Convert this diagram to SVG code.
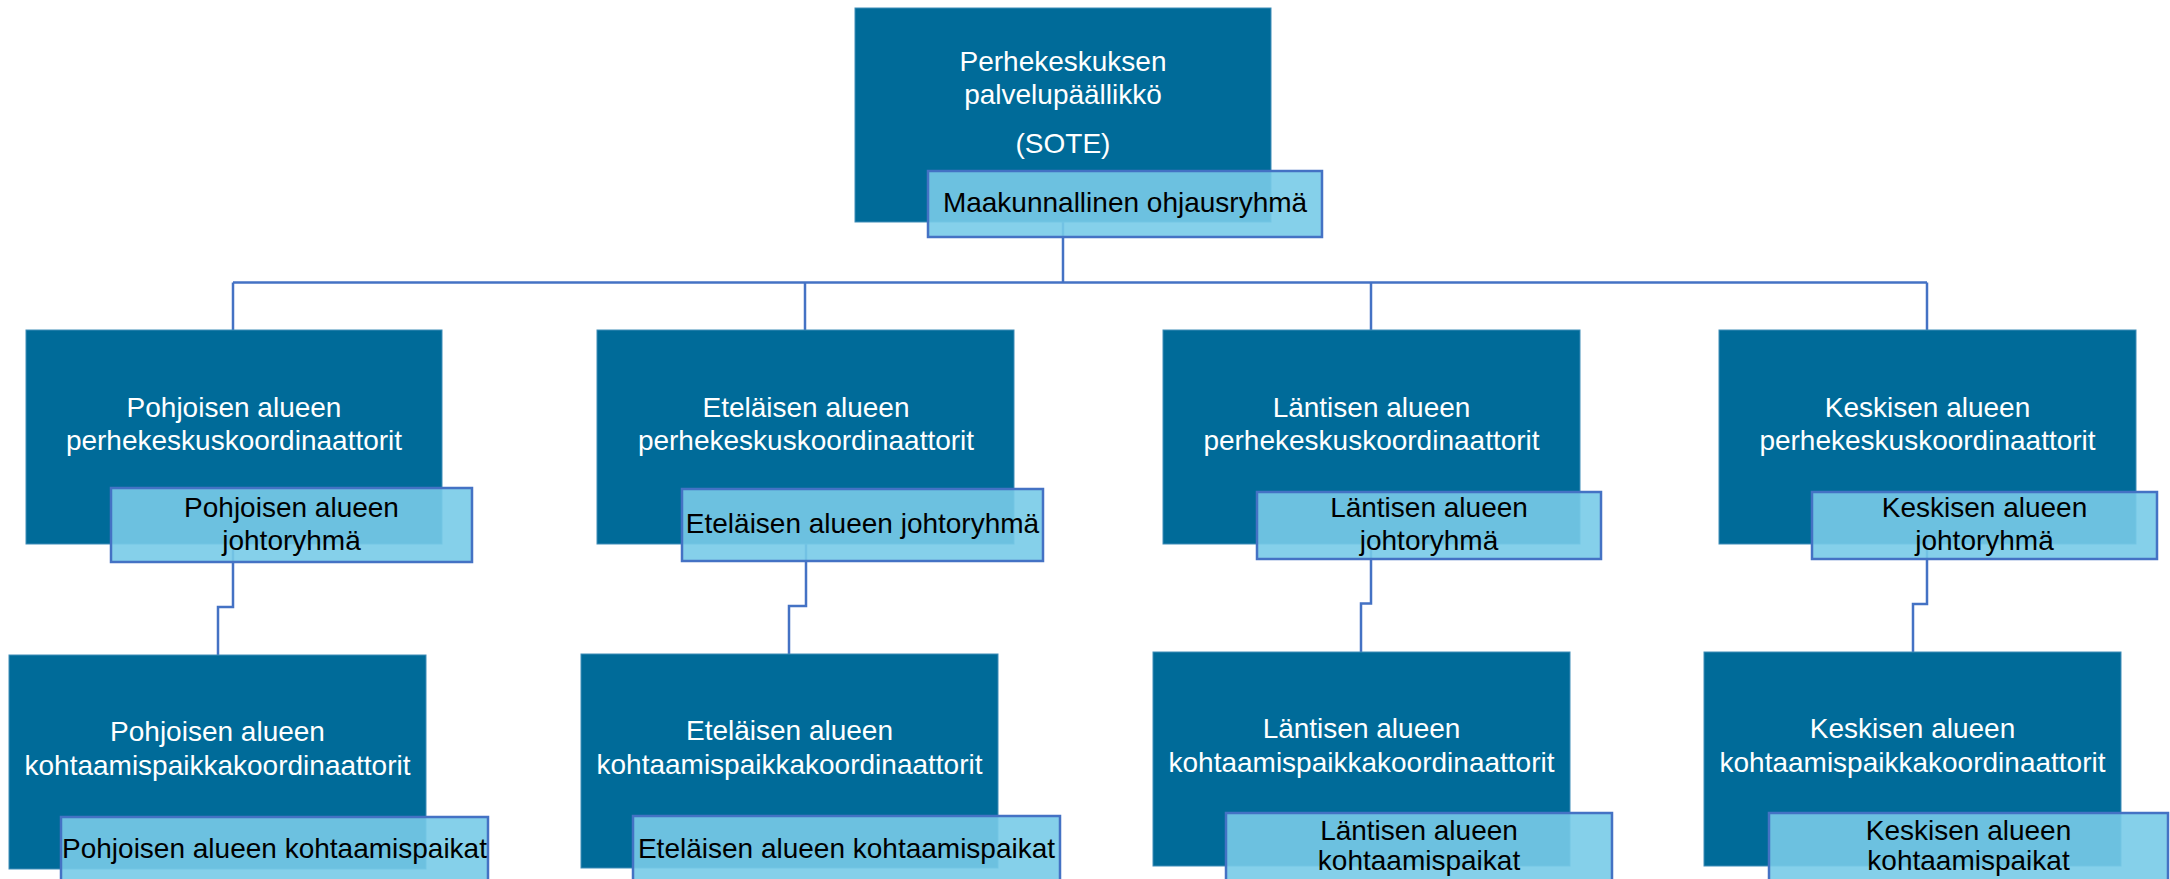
<svg xmlns="http://www.w3.org/2000/svg" width="2170" height="879" viewBox="0 0 2170 879">
<style>
.dark{fill:#006B99;stroke:#3F8DB8;stroke-width:1}
.sub{fill:rgb(120,203,232);fill-opacity:0.9;stroke:#4472C4;stroke-width:2.5}
.wt{font-family:"Liberation Sans",Arial,sans-serif;font-size:28px;fill:#ffffff;text-anchor:middle}
.bt{font-family:"Liberation Sans",Arial,sans-serif;font-size:28px;fill:#000000;text-anchor:middle}
.conn{fill:none;stroke:#4472C4;stroke-width:2.5}
</style>
<rect width="2170" height="879" fill="#ffffff"/>
<g id="connectors" class="conn">
<path d="M1063,222 V282.5"/>
<path d="M233,282.5 H1927"/>
<path d="M233,282.5 V330"/>
<path d="M805,282.5 V330"/>
<path d="M1371,282.5 V330"/>
<path d="M1927,282.5 V330"/>
<path d="M233,544 V607 H218 V655"/>
<path d="M806,544 V606 H789 V654"/>
<path d="M1371,544 V603.5 H1361 V652"/>
<path d="M1927,544 V604 H1913 V652"/>
</g>
<g id="node-top">
<rect class="dark" x="855" y="8" width="416" height="214"/>
<text class="wt" x="1063" y="71">Perhekeskuksen</text>
<text class="wt" x="1063" y="104">palvelupäällikkö</text>
<text class="wt" x="1063" y="153">(SOTE)</text>
<rect class="sub" x="928" y="171" width="394" height="66"/>
<text class="bt" x="1125" y="212">Maakunnallinen ohjausryhmä</text>
</g>
<g id="node-pohjoinen-perhekeskus">
<rect class="dark" x="26" y="330" width="416" height="214"/>
<text class="wt" x="234" y="417">Pohjoisen alueen</text>
<text class="wt" x="234" y="450">perhekeskuskoordinaattorit</text>
<rect class="sub" x="111" y="488" width="361" height="74"/>
<text class="bt" x="291.5" y="517">Pohjoisen alueen</text>
<text class="bt" x="291.5" y="550">johtoryhmä</text>
</g>
<g id="node-etelainen-perhekeskus">
<rect class="dark" x="597" y="330" width="417" height="214"/>
<text class="wt" x="806" y="417">Eteläisen alueen</text>
<text class="wt" x="806" y="450">perhekeskuskoordinaattorit</text>
<rect class="sub" x="682" y="489" width="361" height="72"/>
<text class="bt" x="862.5" y="533">Eteläisen alueen johtoryhmä</text>
</g>
<g id="node-lantinen-perhekeskus">
<rect class="dark" x="1163" y="330" width="417" height="214"/>
<text class="wt" x="1371.5" y="417">Läntisen alueen</text>
<text class="wt" x="1371.5" y="450">perhekeskuskoordinaattorit</text>
<rect class="sub" x="1257" y="492" width="344" height="67"/>
<text class="bt" x="1429" y="517">Läntisen alueen</text>
<text class="bt" x="1429" y="550">johtoryhmä</text>
</g>
<g id="node-keskinen-perhekeskus">
<rect class="dark" x="1719" y="330" width="417" height="214"/>
<text class="wt" x="1927.5" y="417">Keskisen alueen</text>
<text class="wt" x="1927.5" y="450">perhekeskuskoordinaattorit</text>
<rect class="sub" x="1812" y="492" width="345" height="67"/>
<text class="bt" x="1984.5" y="517">Keskisen alueen</text>
<text class="bt" x="1984.5" y="550">johtoryhmä</text>
</g>
<g id="node-pohjoinen-kohtaamis">
<rect class="dark" x="9" y="655" width="417" height="214"/>
<text class="wt" x="217.5" y="741">Pohjoisen alueen</text>
<text class="wt" x="217.5" y="775">kohtaamispaikkakoordinaattorit</text>
<rect class="sub" x="61" y="817" width="427" height="80"/>
<text class="bt" x="274.5" y="858">Pohjoisen alueen kohtaamispaikat</text>
</g>
<g id="node-etelainen-kohtaamis">
<rect class="dark" x="581" y="654" width="417" height="214"/>
<text class="wt" x="789.5" y="740">Eteläisen alueen</text>
<text class="wt" x="789.5" y="774">kohtaamispaikkakoordinaattorit</text>
<rect class="sub" x="633" y="816" width="427" height="80"/>
<text class="bt" x="846.5" y="858">Eteläisen alueen kohtaamispaikat</text>
</g>
<g id="node-lantinen-kohtaamis">
<rect class="dark" x="1153" y="652" width="417" height="214"/>
<text class="wt" x="1361.5" y="738">Läntisen alueen</text>
<text class="wt" x="1361.5" y="772">kohtaamispaikkakoordinaattorit</text>
<rect class="sub" x="1226" y="813" width="386" height="80"/>
<text class="bt" x="1419" y="840">Läntisen alueen</text>
<text class="bt" x="1419" y="870">kohtaamispaikat</text>
</g>
<g id="node-keskinen-kohtaamis">
<rect class="dark" x="1704" y="652" width="417" height="214"/>
<text class="wt" x="1912.5" y="738">Keskisen alueen</text>
<text class="wt" x="1912.5" y="772">kohtaamispaikkakoordinaattorit</text>
<rect class="sub" x="1769" y="813" width="399" height="80"/>
<text class="bt" x="1968.5" y="840">Keskisen alueen</text>
<text class="bt" x="1968.5" y="870">kohtaamispaikat</text>
</g>
</svg>
